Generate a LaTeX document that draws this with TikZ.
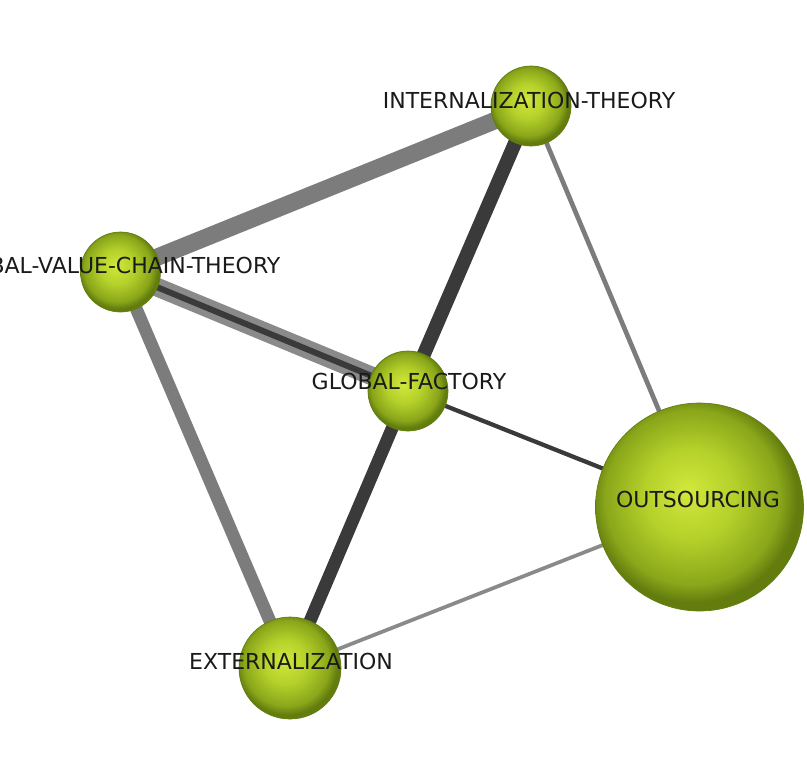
\documentclass[tikz,border=0pt]{standalone}
\usepackage{fontspec}
\setmainfont{DejaVu Sans}
\usetikzlibrary{backgrounds}
\definecolor{edgegray}{HTML}{7C7C7C}
\definecolor{edgelight}{HTML}{8A8A8A}
\definecolor{edgedark}{HTML}{3A3A3A}
\definecolor{txt}{HTML}{1A1A1A}
\definecolor{ballc}{HTML}{D2E83C}
\definecolor{ballm}{HTML}{B4D02A}
\definecolor{balle}{HTML}{8AA61A}
\definecolor{ballr}{HTML}{627C0E}
% green sphere: bright core slightly up-left, olive rim
\pgfdeclareradialshading{sphere}{\pgfpoint{-3bp}{4bp}}{%
  color(0bp)=(ballc); color(11bp)=(ballm); color(21bp)=(balle);
  color(25bp)=(ballr); color(50bp)=(ballr)}
\begin{document}
\begin{tikzpicture}[x=0.75pt,y=-0.75pt,
  ball/.style={circle, shading=sphere, draw=ballr, line width=0.5pt,
               minimum size=#1, inner sep=0pt},
  tag/.style={font=\fontsize{16.5}{19}\selectfont, text=txt, inner sep=0pt},
  link/.style={line width=#1}]
\clip (0,0) rectangle (807,769);

% concepts
\node[ball=60pt]   (int) at (531,106) {};
\node[ball=60pt]   (gvc) at (120.5,272) {};
\node[ball=60pt]   (gf)  at (408,391) {};
\node[ball=156pt]  (out) at (699.5,507) {};
\node[ball=76.5pt] (ext) at (290,668) {};

% co-occurrence links
\begin{pgfonlayer}{background}
  \fill[white] (0,0) rectangle (807,769);
  \draw[link=13pt, edgegray]   (gvc.center) -- (int.center);
  \draw[link=14pt, edgelight]  (gvc.center) -- (gf.center);
  \draw[link=4.5pt, edgedark]  (gvc.center) -- (gf.center);
  \draw[link=9.5pt, edgegray]  (gvc.center) -- (ext.center);
  \draw[link=10.5pt, edgedark] (int.center) -- (gf.center);
  \draw[link=3.5pt, edgegray]  (int.center) -- (out.center);
  \draw[link=3.2pt, edgedark]  (gf.center)  -- (out.center);
  \draw[link=9.5pt, edgedark]  (gf.center)  -- (ext.center);
  \draw[link=2.8pt, edgelight] (ext.center) -- (out.center);
\end{pgfonlayer}

% labels
\node[tag] (intl) at (529,100.5) {INTERNALIZATION-THEORY};
\node[tag] (gvcl) at (112,265) {GLOBAL-VALUE-CHAIN-THEORY};
\node[tag] (gfl)  at (409,381.5) {GLOBAL-FACTORY};
\node[tag] (outl) at (698,499) {OUTSOURCING};
\node[tag] (extl) at (291,661.5) {EXTERNALIZATION};
\end{tikzpicture}
\end{document}
